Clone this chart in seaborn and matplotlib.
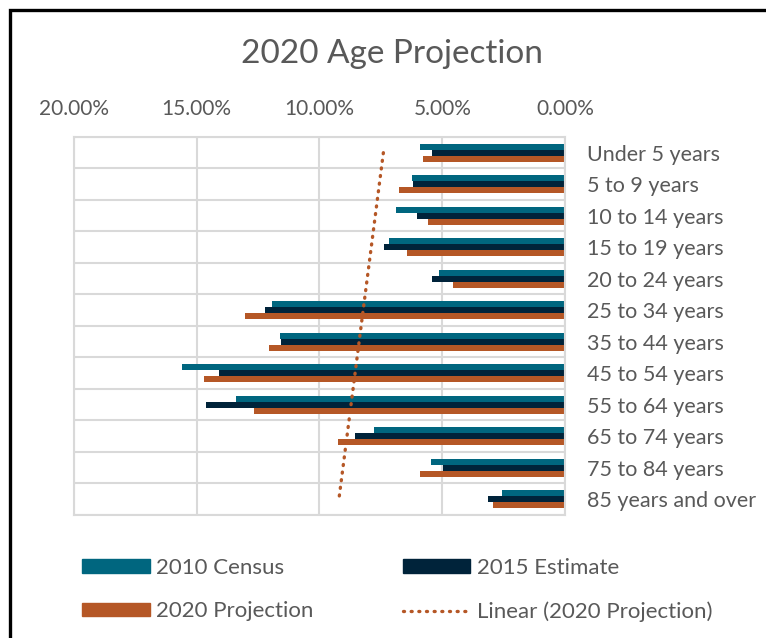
import numpy as np
import pandas as pd
import seaborn as sns
import matplotlib.pyplot as plt
from matplotlib.lines import Line2D
from matplotlib.patches import Patch, Rectangle
from matplotlib.ticker import FuncFormatter

# values in percent
age_groups = ["Under 5 years", "5 to 9 years", "10 to 14 years", "15 to 19 years",
              "20 to 24 years", "25 to 34 years", "35 to 44 years", "45 to 54 years",
              "55 to 64 years", "65 to 74 years", "75 to 84 years", "85 years and over"]
census_2010 = [5.90, 6.22, 6.87, 7.17, 5.14, 11.93, 11.59, 15.60, 13.39, 7.78, 5.47, 2.58]
estimate_2015 = [5.43, 6.19, 6.04, 7.36, 5.43, 12.23, 11.55, 14.09, 14.64, 8.56, 4.98, 3.14]
projection_2020 = [5.77, 6.78, 5.59, 6.45, 4.56, 13.02, 12.04, 14.69, 12.65, 9.24, 5.92, 2.94]

series_names = ["2010 Census", "2015 Estimate", "2020 Projection"]
colors = ["#00667F", "#00233A", "#B55726"]
text_color = "#595959"
grid_color = "#D9D9D9"
dot_style = (0, (0.3, 2.0))

df = pd.DataFrame({
    "Age": age_groups * 3,
    "Series": np.repeat(series_names, len(age_groups)),
    "Share": census_2010 + estimate_2015 + projection_2020,
})

sns.set_theme(style="white")
plt.rcParams['font.family'] = ['Lato', 'DejaVu Sans']

fig = plt.figure(figsize=(7.66, 6.38), dpi=100)
ax = fig.add_axes([0.0966, 0.1928, 0.641, 0.5925])

sns.barplot(data=df, y="Age", x="Share", hue="Series", hue_order=series_names,
            palette=colors, saturation=1, width=0.57, orient="h", ax=ax,
            legend=False, linewidth=0)

# linear trendline of the 2020 projection (as Excel would compute it)
idx = np.arange(1, len(age_groups) + 1)
slope, intercept = np.polyfit(idx, projection_2020, 1)
trend = slope * idx + intercept
ax.plot(trend, np.arange(len(age_groups)), color=colors[2], lw=2.4,
        linestyle=dot_style, dash_capstyle="round", zorder=5)

ax.set_xlim(20, 0)
ax.set_ylim(len(age_groups) - 0.5, -0.5)
ax.set_xticks([0, 5, 10, 15, 20])
ax.xaxis.set_major_formatter(FuncFormatter(lambda v, p: f"{v:.2f}%"))
ax.set_yticks(np.arange(-0.5, len(age_groups), 1), minor=True)
ax.set_axisbelow(True)
ax.xaxis.grid(True, color=grid_color, lw=1.5)
ax.yaxis.grid(True, which="minor", color=grid_color, lw=1.5)
ax.yaxis.grid(False, which="major")
for s in ax.spines.values():
    s.set_color(grid_color)
    s.set_linewidth(1.5)

ax.tick_params(axis="x", top=True, labeltop=True, bottom=False, labelbottom=False,
               length=0, pad=13, labelsize=15, labelcolor=text_color)
ax.tick_params(axis="y", which="both", left=False, labelleft=False, right=False,
               labelright=True, length=0, pad=16, labelsize=15.5, labelcolor=text_color)
ax.set_xlabel("")
ax.set_ylabel("")

fig.text(0.512, 0.916, "2020 Age Projection", ha="center", va="center",
         fontsize=24, color=text_color)

handles = [Patch(color=colors[0]), Patch(color=colors[2]),
           Patch(color=colors[1]),
           Line2D([0], [0], color=colors[2], lw=2.4, linestyle=dot_style,
                  dash_capstyle="round")]
labels = ["2010 Census", "2020 Projection", "2015 Estimate", "Linear (2020 Projection)"]
fig.legend(handles, labels, ncol=2, loc="upper left",
           bbox_to_anchor=(82 / 766, 1 - 558 / 638), frameon=False,
           fontsize=16, labelcolor=text_color, handlelength=3.05, handleheight=0.55,
           handletextpad=0.3, columnspacing=4.0, labelspacing=1.05,
           borderpad=0, borderaxespad=0)

# outer chart frame (cropped at right and bottom)
fig.patches.append(Rectangle((10 / 766, -0.1), 1.1, 1 + 0.1 - 10 / 638,
                             transform=fig.transFigure, fill=False,
                             ec="black", lw=2.4))

fig.savefig("out.png", dpi=100)
